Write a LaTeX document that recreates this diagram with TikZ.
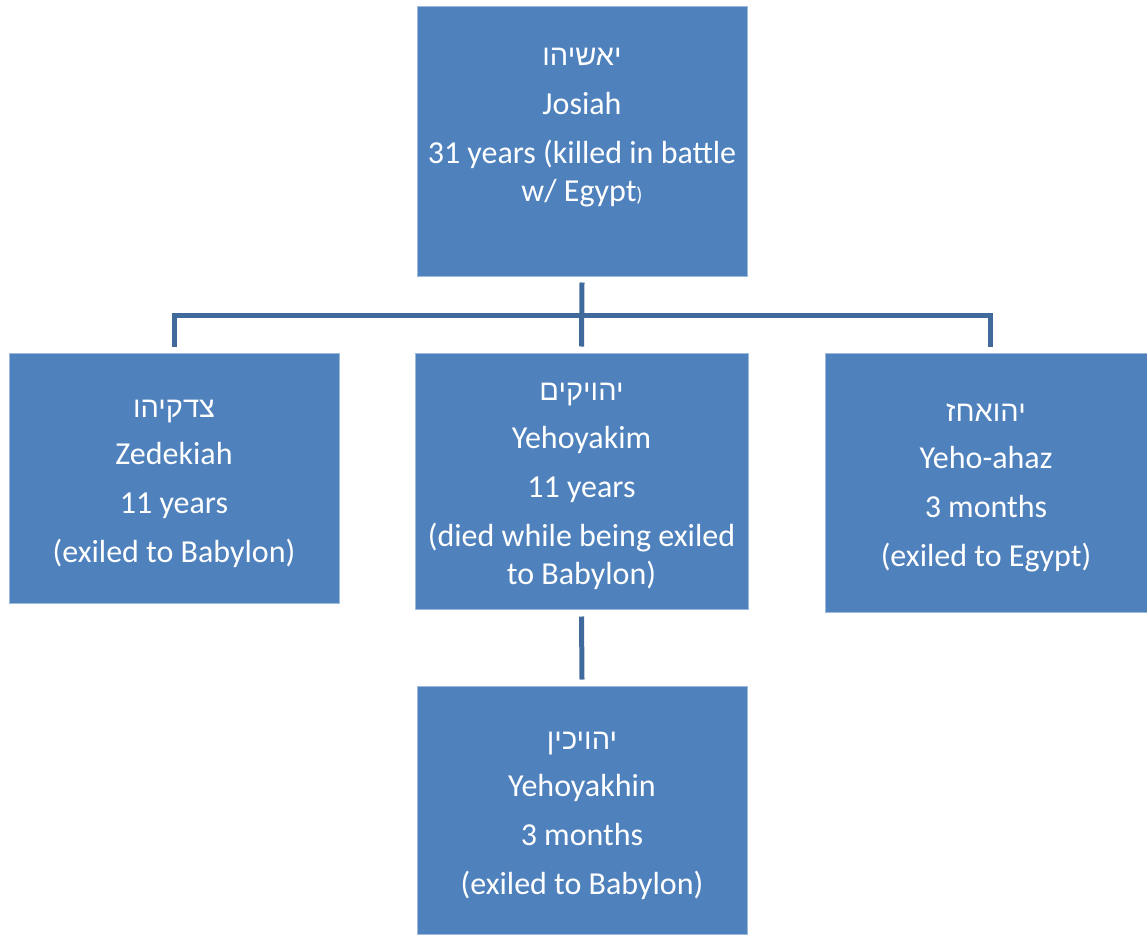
\documentclass[tikz,border=0pt]{standalone}
\usepackage{fontspec}
\setmainfont{Carlito}
\newfontfamily\hebfont[Script=Hebrew]{Liberation Sans}
\TeXXeTstate=1
\newcommand{\heb}[1]{{\hebfont\fontsize{29}{38}\selectfont\rule{0pt}{29pt}\beginR #1\endR}}
\definecolor{boxblue}{HTML}{4F81BD}
\definecolor{linkblue}{HTML}{416A9C}

\begin{document}
\begin{tikzpicture}[x=1pt, y=-1pt,
    king/.style={draw=boxblue!55!white, line width=1pt, fill=boxblue, text=white,
      align=center, inner sep=0pt, font=\fontsize{32}{38}\selectfont},
    link/.style={draw=linkblue, line width=5pt}]
    \useasboundingbox (0,0) rectangle (1147,934);

    % Kings
    \node[king, minimum width=330pt, minimum height=269pt] (josiah) at (582,141.5)
      {\heb{יאשיהו}\\[11pt] Josiah\\[11pt] 31 years (killed in battle\\ w/ Egypt{\fontsize{20}{38}\selectfont)}\\[7pt] \mbox{}};
    \node[king, minimum width=330pt, minimum height=250pt] (zedekiah) at (174,478)
      {\heb{צדקיהו}\\[9pt] Zedekiah\\[11pt] 11 years\\[11pt] (exiled to Babylon)};
    \node[king, minimum width=333pt, minimum height=256pt] (yehoyakim) at (581.5,481)
      {\heb{יהויקים}\\[10pt] Yehoyakim\\[11pt] 11 years\\[11pt] (died while being exiled\\ to Babylon)};
    \node[king, minimum width=322pt, minimum height=259pt] (yehoahaz) at (986,482.5)
      {\heb{יהואחז}\\[9pt] Yeho-ahaz\\[11pt] 3 months\\[11pt] (exiled to Egypt)};
    \node[king, minimum width=330pt, minimum height=248pt] (yehoyakhin) at (582,810)
      {\heb{יהויכין}\\[9pt] Yehoyakhin\\[11pt] 3 months\\[11pt] (exiled to Babylon)};

    % Connectors
    \coordinate (bus) at (582,315.5);
    \draw[link] ([yshift=-6pt]josiah.south) -- ([yshift=6pt]yehoyakim.north);
    \draw[link] ([yshift=6pt]zedekiah.north) |- (bus) -| ([xshift=4pt,yshift=6pt]yehoahaz.north);
    \draw[link] ([yshift=-7pt]yehoyakim.south) -- ([yshift=6pt]yehoyakhin.north);
  \end{tikzpicture}
\end{document}
